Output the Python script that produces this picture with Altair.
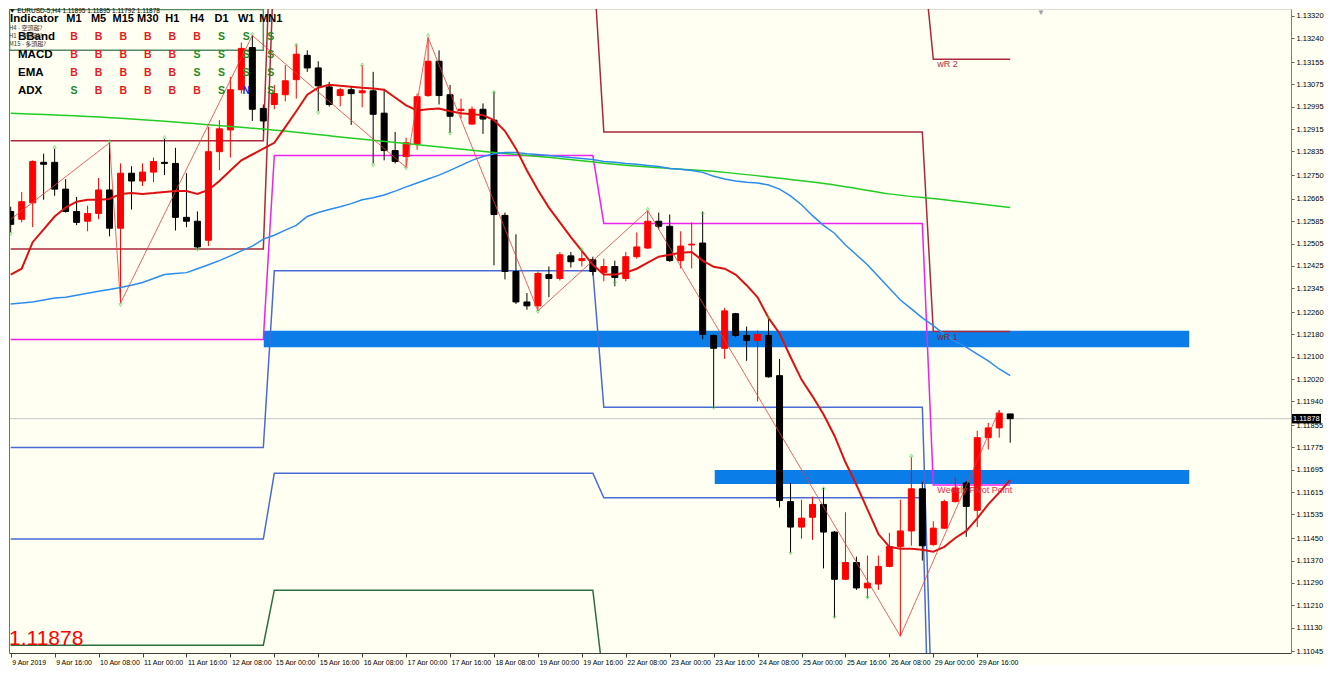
import altair as alt
import pandas as pd

# ---------------- data ----------------
symbol_line = "\u25BC EURUSD-5,H4  1.11895 1.11895 1.11792 1.11878"
last_price = 1.11878

opens = [1.12620,1.12592,1.12651,1.12796,1.12796,1.12700,1.12620,1.12585,1.12613,1.12697,
         1.12560,1.12757,1.12729,1.12761,1.12796,1.12792,1.12599,1.12585,1.12517,1.12834,
         1.12912,1.13056,1.13207,1.12989,1.13003,1.13038,1.13092,1.13179,1.13134,1.13066,
         1.13035,1.13056,1.13045,1.13052,1.12972,1.12838,1.12817,1.12862,1.13035,1.13158,
         1.13038,1.12982,1.12933,1.12986,1.12947,1.12606,1.12405,1.12296,1.12282,1.12394,
         1.12380,1.12461,1.12444,1.12447,1.12402,1.12423,1.12380,1.12458,1.12489,1.12585,
         1.12567,1.12444,1.12500,1.12507,1.12176,1.12130,1.12254,1.12176,1.12158,1.12176,
         1.12032,1.11581,1.11490,1.11525,1.11571,1.11472,1.11303,1.11363,1.11272,1.11286,
         1.11349,1.11420,1.11476,1.11627,1.11427,1.11486,1.11581,1.11648,1.11550,1.11810,
         1.11845,1.11895]
highs = [1.12637,1.12690,1.12803,1.12827,1.12845,1.12736,1.12672,1.12641,1.12740,1.12866,
         1.12792,1.12782,1.12792,1.12813,1.12880,1.12848,1.12757,1.12620,1.12923,1.12947,
         1.13102,1.13225,1.13250,1.13003,1.13073,1.13144,1.13218,1.13197,1.13158,1.13084,
         1.13063,1.13066,1.13144,1.13120,1.13059,1.12905,1.12884,1.13042,1.13243,1.13197,
         1.13073,1.13024,1.12996,1.13007,1.13049,1.12616,1.12538,1.12328,1.12405,1.12423,
         1.12475,1.12475,1.12482,1.12458,1.12451,1.12444,1.12475,1.12545,1.12623,1.12616,
         1.12609,1.12549,1.12581,1.12620,1.12180,1.12275,1.12257,1.12208,1.12194,1.12236,
         1.12092,1.11648,1.11588,1.11599,1.11630,1.11476,1.11543,1.11384,1.11388,1.11388,
         1.11469,1.11588,1.11740,1.11651,1.11511,1.11588,1.11669,1.11655,1.11835,1.11863,
         1.11909,1.11895]
lows = [1.12545,1.12581,1.12564,1.12662,1.12676,1.12616,1.12571,1.12549,1.12592,1.12531,
        1.12292,1.12627,1.12711,1.12725,1.12750,1.12552,1.12564,1.12486,1.12496,1.12768,
        1.12813,1.13042,1.12944,1.12908,1.12986,1.13014,1.13024,1.13120,1.12979,1.12996,
        1.12996,1.12930,1.12993,1.12792,1.12803,1.12792,1.12778,1.12841,1.13031,1.13003,
        1.12901,1.12954,1.12930,1.12898,1.12427,1.12377,1.12289,1.12268,1.12264,1.12313,
        1.12373,1.12419,1.12423,1.12391,1.12370,1.12352,1.12370,1.12451,1.12486,1.12556,
        1.12440,1.12416,1.12416,1.12162,1.11916,1.12092,1.12169,1.12085,1.11940,1.12025,
        1.11560,1.11398,1.11448,1.11444,1.11342,1.11166,1.11300,1.11265,1.11236,1.11265,
        1.11346,1.11099,1.11423,1.11370,1.11423,1.11483,1.11578,1.11455,1.11490,1.11768,
        1.11810,1.11792]
closes = [1.12574,1.12655,1.12799,1.12789,1.12700,1.12620,1.12581,1.12613,1.12697,1.12560,
          1.12757,1.12729,1.12761,1.12799,1.12792,1.12599,1.12585,1.12493,1.12834,1.12916,
          1.13056,1.13204,1.12986,1.12944,1.13042,1.13088,1.13183,1.13134,1.13070,1.13003,
          1.13056,1.13042,1.13052,1.12968,1.12838,1.12799,1.12866,1.13031,1.13158,1.13035,
          1.12961,1.12986,1.12986,1.12951,1.12609,1.12405,1.12296,1.12282,1.12398,1.12380,
          1.12465,1.12440,1.12451,1.12405,1.12423,1.12384,1.12458,1.12493,1.12585,1.12567,
          1.12444,1.12496,1.12503,1.12180,1.12130,1.12264,1.12176,1.12158,1.12180,1.12028,
          1.11585,1.11490,1.11522,1.11571,1.11472,1.11303,1.11363,1.11272,1.11289,1.11349,
          1.11420,1.11476,1.11627,1.11423,1.11486,1.11581,1.11630,1.11564,1.11810,1.11845,
          1.11898,1.11878]

ma_fast = [1.12394,1.12415,1.12510,1.12556,1.12602,1.12634,1.12655,1.12662,1.12662,1.12665,
           1.12683,1.12686,1.12683,1.12686,1.12690,1.12693,1.12693,1.12683,1.12697,1.12729,
           1.12767,1.12803,1.12824,1.12845,1.12866,1.12922,1.12979,1.13038,1.13063,1.13074,
           1.13070,1.13067,1.13063,1.13060,1.13056,1.13028,1.13000,1.12982,1.12986,1.12989,
           1.12979,1.12972,1.12968,1.12965,1.12947,1.12908,1.12845,1.12767,1.12697,1.12634,
           1.12581,1.12528,1.12479,1.12429,1.12394,1.12394,1.12401,1.12415,1.12437,1.12458,
           1.12465,1.12472,1.12475,1.12444,1.12422,1.12415,1.12394,1.12356,1.12313,1.12239,
           1.12183,1.12099,1.12018,1.11958,1.11894,1.11817,1.11722,1.11641,1.11553,1.11465,
           1.11419,1.11412,1.11412,1.11409,1.11402,1.11419,1.11451,1.11476,1.11521,1.11571,
           1.11613,1.11659]
ma_mid = [1.12289,1.12292,1.12296,1.12303,1.12310,1.12313,1.12320,1.12327,1.12334,1.12341,
          1.12348,1.12356,1.12366,1.12380,1.12394,1.12398,1.12401,1.12415,1.12429,1.12444,
          1.12461,1.12479,1.12496,1.12521,1.12535,1.12553,1.12570,1.12602,1.12616,1.12627,
          1.12637,1.12648,1.12662,1.12669,1.12679,1.12693,1.12708,1.12722,1.12736,1.12750,
          1.12767,1.12785,1.12803,1.12817,1.12827,1.12831,1.12831,1.12827,1.12824,1.12820,
          1.12817,1.12813,1.12810,1.12806,1.12799,1.12796,1.12792,1.12789,1.12785,1.12781,
          1.12774,1.12771,1.12767,1.12760,1.12746,1.12736,1.12729,1.12725,1.12722,1.12715,
          1.12700,1.12676,1.12644,1.12605,1.12570,1.12542,1.12500,1.12465,1.12429,1.12387,
          1.12345,1.12303,1.12271,1.12239,1.12211,1.12180,1.12155,1.12134,1.12109,1.12085,
          1.12056,1.12032]
ma_slow_idx = [0, 10, 15, 23, 30, 38, 44, 50, 55, 60, 65, 70, 75, 80, 85, 91]
ma_slow = [1.12972,1.12954,1.12940,1.12915,1.12887,1.12855,1.12831,1.12810,
           1.12789,1.12774,1.12760,1.12739,1.12715,1.12683,1.12662,1.12634]

zz_idx = [0, 9, 10, 22, 36, 38, 48, 58, 81, 90]
zz_price = [1.12592,1.12866,1.12292,1.13250,1.12778,1.13243,1.12264,1.12623,1.11099,1.11909]

frac_up_idx = [4, 9, 14, 22, 26, 32, 38, 44, 52, 58, 63, 69, 74, 82]
frac_up_price = [1.12852,1.12873,1.12887,1.13257,1.13218,1.13147,1.13253,1.13049,
                 1.12486,1.12630,1.12616,1.12243,1.11630,1.11747]
frac_dn_idx = [0, 10, 17, 28, 33, 36, 40, 48, 55, 64, 71, 75, 78]
frac_dn_price = [1.12539,1.12285,1.12482,1.12972,1.12785,1.12774,1.12898,1.12260,
                 1.12363,1.11916,1.11395,1.11166,1.11236]

week_start = [0, 24, 54, 84]
pivot_w = [1.12162, 1.12820, 1.12577, 1.11641]
r1_w = [1.12486, 1.13545, 1.12905, 1.12190]
r2_w = [1.12873, 1.13957, 1.13563, 1.13165]
s1_w = [1.11775, 1.12408, 1.11919, 1.10666]
s2_w = [1.11447, 1.11683, 1.11595, 1.10117]
s3_w = [1.11067, 1.11264, 1.10933, 1.09142]
r3_first_week = 1.13197

zone_start = [23.04, 64.1]
zone_end = [107.3, 107.3]
zone_top = [1.12193, 1.11694]
zone_bottom = [1.12134, 1.11644]

level_text = ["wR 2", "wR 1", "Weekly Pivot Point"]
level_text_price = [1.13165, 1.12190, 1.11641]

time_labels = ["9 Apr 2019", "9 Apr 16:00", "10 Apr 08:00", "11 Apr 00:00", "11 Apr 16:00",
               "12 Apr 08:00", "15 Apr 00:00", "15 Apr 16:00", "16 Apr 08:00", "17 Apr 00:00",
               "17 Apr 16:00", "18 Apr 08:00", "19 Apr 00:00", "19 Apr 16:00", "22 Apr 08:00",
               "23 Apr 00:00", "23 Apr 16:00", "24 Apr 08:00", "25 Apr 00:00", "25 Apr 16:00",
               "26 Apr 08:00", "29 Apr 00:00", "29 Apr 16:00"]
price_ticks = [1.13320,1.13240,1.13155,1.13075,1.12995,1.12915,1.12835,1.12750,1.12665,1.12585,
               1.12505,1.12425,1.12345,1.12260,1.12180,1.12100,1.12020,1.11940,1.11855,1.11775,
               1.11695,1.11615,1.11535,1.11450,1.11370,1.11290,1.11210,1.11130,1.11045]

table_cols = ["M1", "M5", "M15", "M30", "H1", "H4", "D1", "W1", "MN1"]
table_rows = ["BBand", "MACD", "EMA", "ADX"]
table_signals = [["B","B","B","B","B","B","S","S","S"],
                 ["B","B","B","B","B","S","S","S","S"],
                 ["B","B","B","B","B","S","S","S","S"],
                 ["S","B","B","B","B","B","S","N","S"]]
notes = ["H4 - 空頭趨?", "H1 - 空頭趨?", "M15 - 多頭趨?"]

# ---------------- styles / layout ----------------
W, H = 1282, 644
BG = "#fffff2"
FONT = "Liberation Sans"
X_DOM = [0.3, 116.11]
Y_DOM = [1.11039, 1.13345]
UP, DOWN = "#ff0000", "#000000"
sig_color = {"B": "#e8191b", "S": "#1f8a1f", "N": "#2323c8"}
level_style = {"R2": "#aa2a3c", "R1": "#aa2a3c", "P": "#ee22ee",
               "S1": "#4a6ad6", "S2": "#4a6ad6", "S3": "#2d6e3c"}

xs = alt.Scale(domain=X_DOM, nice=False, zero=False)
ys = alt.Scale(domain=Y_DOM, nice=False, zero=False)

labels_js = "[" + ",".join("'%s'" % s for s in time_labels) + "]"
x_axis = alt.Axis(values=list(range(0, 4 * len(time_labels), 4)),
                  labelExpr=labels_js + "[round(datum.value / 4)]",
                  labelAlign="left", labelBaseline="top", labelPadding=1, labelOffset=1,
                  labelFontSize=7, labelFont=FONT, labelColor="#000000",
                  tickSize=4, tickColor="#404040", domainColor="#404040",
                  labelOverlap=False, labelFlush=False, grid=False, title=None)
y_axis = alt.Axis(orient="right", values=price_ticks, format=".5f",
                  labelFontSize=7.5, labelFont=FONT, labelColor="#000000",
                  tickSize=3, tickColor="#606060", domainColor="#808080", labelPadding=2,
                  labelOverlap=False, labelFlush=False, grid=False, title=None)

def X(f, **kw):
    return alt.X(f, scale=xs, axis=x_axis, **kw)

def Y(f, **kw):
    return alt.Y(f, scale=ys, axis=y_axis, **kw)

# ---------------- tables built from the arrays ----------------
n = len(opens)
candles = pd.DataFrame({"i": list(range(n)), "o": opens, "h": highs, "l": lows, "c": closes})
candles["col"] = [UP if c >= o else DOWN for o, c in zip(opens, closes)]

ma_df = pd.DataFrame({"i": list(range(n)), "fast": ma_fast, "mid": ma_mid})
slow_df = pd.DataFrame({"i": ma_slow_idx, "p": ma_slow})
zz_df = pd.DataFrame({"i": zz_idx, "p": zz_price})
fu_df = pd.DataFrame({"i": frac_up_idx, "p": frac_up_price})
fd_df = pd.DataFrame({"i": frac_dn_idx, "p": frac_dn_price})
zones = pd.DataFrame({"a": zone_start, "b": zone_end, "t": zone_top, "u": zone_bottom})

levels = {"R2": r2_w, "R1": r1_w, "P": pivot_w, "S1": s1_w, "S2": s2_w, "S3": s3_w}
rows = []
for name, vals in levels.items():
    for i in range(n):
        w = max(k for k, s in enumerate(week_start) if i >= s)
        rows.append({"i": i, "p": vals[w], "name": name, "col": level_style[name]})
lvl_df = pd.DataFrame(rows)

lbl_df = pd.DataFrame({"i": [week_start[-1]] * 3, "p": level_text_price, "t": level_text,
                       "col": ["#b02a40", "#8a1f33", "#e8304a"]})
box_df = pd.DataFrame({"i": [week_start[1] - 1], "p": [r3_first_week]})
last_df = pd.DataFrame({"p": [last_price], "t": ["%.5f" % last_price]})

# table text cells (pixel layout)
cells = []
col_x0, col_dx, row_y0, row_dy = 65, 24.6, 10, 18
cells.append({"px": 1, "py": row_y0, "t": "Indicator", "col": "#000000", "k": "head"})
for j, cname in enumerate(table_cols):
    cells.append({"px": col_x0 + j * col_dx, "py": row_y0, "t": cname, "col": "#000000", "k": "headc"})
for r, rname in enumerate(table_rows):
    cells.append({"px": 9, "py": row_y0 + (r + 1) * row_dy, "t": rname, "col": "#000000", "k": "head"})
    for j, s in enumerate(table_signals[r]):
        cells.append({"px": col_x0 + j * col_dx, "py": row_y0 + (r + 1) * row_dy, "t": s,
                      "col": sig_color[s], "k": "sig"})
cells_df = pd.DataFrame(cells)
notes_df = pd.DataFrame({"px": [0, 0, 0], "py": [19, 27, 35], "t": notes})

# ---------------- layers ----------------
zone_layer = alt.Chart(zones).mark_rect(color="#0a7de8", clip=True).encode(
    x=X("a:Q"), x2="b:Q", y=Y("t:Q"), y2="u:Q")

price_line = alt.Chart(last_df).mark_rule(color="#c4c4c4", strokeWidth=1).encode(y=Y("p:Q"))

level_layer = alt.Chart(lvl_df).mark_line(strokeWidth=1.5, clip=True).encode(
    x=X("i:Q"), y=Y("p:Q"), color=alt.Color("col:N", scale=None), detail="name:N")

box_layer = alt.Chart(box_df).mark_rect(fillOpacity=0, stroke="#568a66", strokeWidth=1.5, clip=True).encode(
    x=X("i:Q"), x2=alt.value(0.5), y=Y("p:Q"), y2=alt.value(0.5))

wicks = alt.Chart(candles).mark_rule(strokeWidth=1, clip=True).encode(
    x=X("i:Q"), y=Y("l:Q"), y2="h:Q", color=alt.Color("col:N", scale=None))
bodies = alt.Chart(candles).mark_bar(width=6, strokeWidth=1, clip=True).encode(
    x=X("i:Q"), y=Y("o:Q"), y2="c:Q", color=alt.Color("col:N", scale=None),
    stroke=alt.Stroke("col:N", scale=None))

green_ma = alt.Chart(slow_df).mark_line(color="#22cc22", strokeWidth=1.5, interpolate="monotone", clip=True).encode(
    x=X("i:Q"), y=Y("p:Q"))
blue_ma = alt.Chart(ma_df).mark_line(color="#2a8cef", strokeWidth=1.5, clip=True).encode(
    x=X("i:Q"), y=Y("mid:Q"))
red_ma = alt.Chart(ma_df).mark_line(color="#dd1111", strokeWidth=2, clip=True).encode(
    x=X("i:Q"), y=Y("fast:Q"))
zigzag = alt.Chart(zz_df).mark_line(color="#ee3a3a", strokeWidth=0.8, clip=True).encode(
    x=X("i:Q"), y=Y("p:Q"))
frac_up = alt.Chart(fu_df).mark_point(shape="triangle-up", size=10, filled=False, strokeWidth=1,
                                      color="#5fd65f", clip=True).encode(x=X("i:Q"), y=Y("p:Q"))
frac_dn = alt.Chart(fd_df).mark_point(shape="triangle-down", size=10, filled=False, strokeWidth=1,
                                      color="#5fd65f", clip=True).encode(x=X("i:Q"), y=Y("p:Q"))

lvl_labels = alt.Chart(lbl_df).mark_text(align="left", baseline="top", dx=4, dy=1, fontSize=9, font=FONT).encode(
    x=X("i:Q"), y=Y("p:Q"), text="t:N", color=alt.Color("col:N", scale=None))

px_ = dict(scale=None, axis=None)
head_txt = alt.Chart(cells_df).transform_filter("datum.k == 'head'").mark_text(
    align="left", baseline="middle", fontSize=11.5, fontWeight="bold", font=FONT).encode(
    x=alt.X("px:Q", **px_), y=alt.Y("py:Q", **px_), text="t:N", color=alt.Color("col:N", scale=None))
headc_txt = alt.Chart(cells_df).transform_filter("datum.k == 'headc'").mark_text(
    align="center", baseline="middle", fontSize=11, fontWeight="bold", font=FONT).encode(
    x=alt.X("px:Q", **px_), y=alt.Y("py:Q", **px_), text="t:N", color=alt.Color("col:N", scale=None))
sig_txt = alt.Chart(cells_df).transform_filter("datum.k == 'sig'").mark_text(
    align="center", baseline="middle", fontSize=10.5, fontWeight="bold", font=FONT).encode(
    x=alt.X("px:Q", **px_), y=alt.Y("py:Q", **px_), text="t:N", color=alt.Color("col:N", scale=None))
notes_txt = alt.Chart(notes_df).mark_text(align="left", baseline="middle", fontSize=6,
                                          font="Noto Sans CJK TC", color="#333333").encode(
    x=alt.X("px:Q", **px_), y=alt.Y("py:Q", **px_), text="t:N")

sym_txt = alt.Chart(last_df).mark_text(align="left", baseline="top", fontSize=6.5, font=FONT,
                                       color="#000000").encode(
    x=alt.value(0), y=alt.value(-1), text=alt.value(symbol_line))
big_price = alt.Chart(last_df).mark_text(align="left", baseline="alphabetic", fontSize=21, font=FONT,
                                         color="#ff0000").encode(
    x=alt.value(0), y=alt.value(H - 8), text="t:N")
shift_mark = alt.Chart(last_df).mark_text(fontSize=8, color="#a0a0a0", baseline="top").encode(
    x=alt.value(1032), y=alt.value(0), text=alt.value("\u25BC"))

box_bg = alt.Chart(last_df).transform_calculate(
    top="datum.p + 0.00017", bot="datum.p - 0.00017").mark_rect(color="#000000").encode(
    x=alt.value(W + 1), x2=alt.value(W + 30), y=Y("top:Q"), y2="bot:Q")
box_txt = alt.Chart(last_df).mark_text(align="left", baseline="middle", fontSize=7.5, font=FONT,
                                       color="#ffffff").encode(
    x=alt.value(W + 2), y=Y("p:Q"), text="t:N")

left_border = alt.Chart(last_df).mark_rule(color="#707070", strokeWidth=1).encode(
    x=alt.value(0.5), y=alt.value(0), y2=alt.value(H))

chart = alt.layer(
    zone_layer, price_line, level_layer, box_layer, wicks, bodies,
    green_ma, blue_ma, red_ma, zigzag, frac_up, frac_dn, lvl_labels,
    head_txt, headc_txt, sig_txt, notes_txt, sym_txt, big_price, shift_mark,
    box_bg, box_txt, left_border
).properties(
    width=W, height=H, padding=0, background=BG
).configure_view(strokeWidth=0, fill=BG).configure(font=FONT)

chart.save("out.html", embed_options={"renderer": "svg", "actions": False})
